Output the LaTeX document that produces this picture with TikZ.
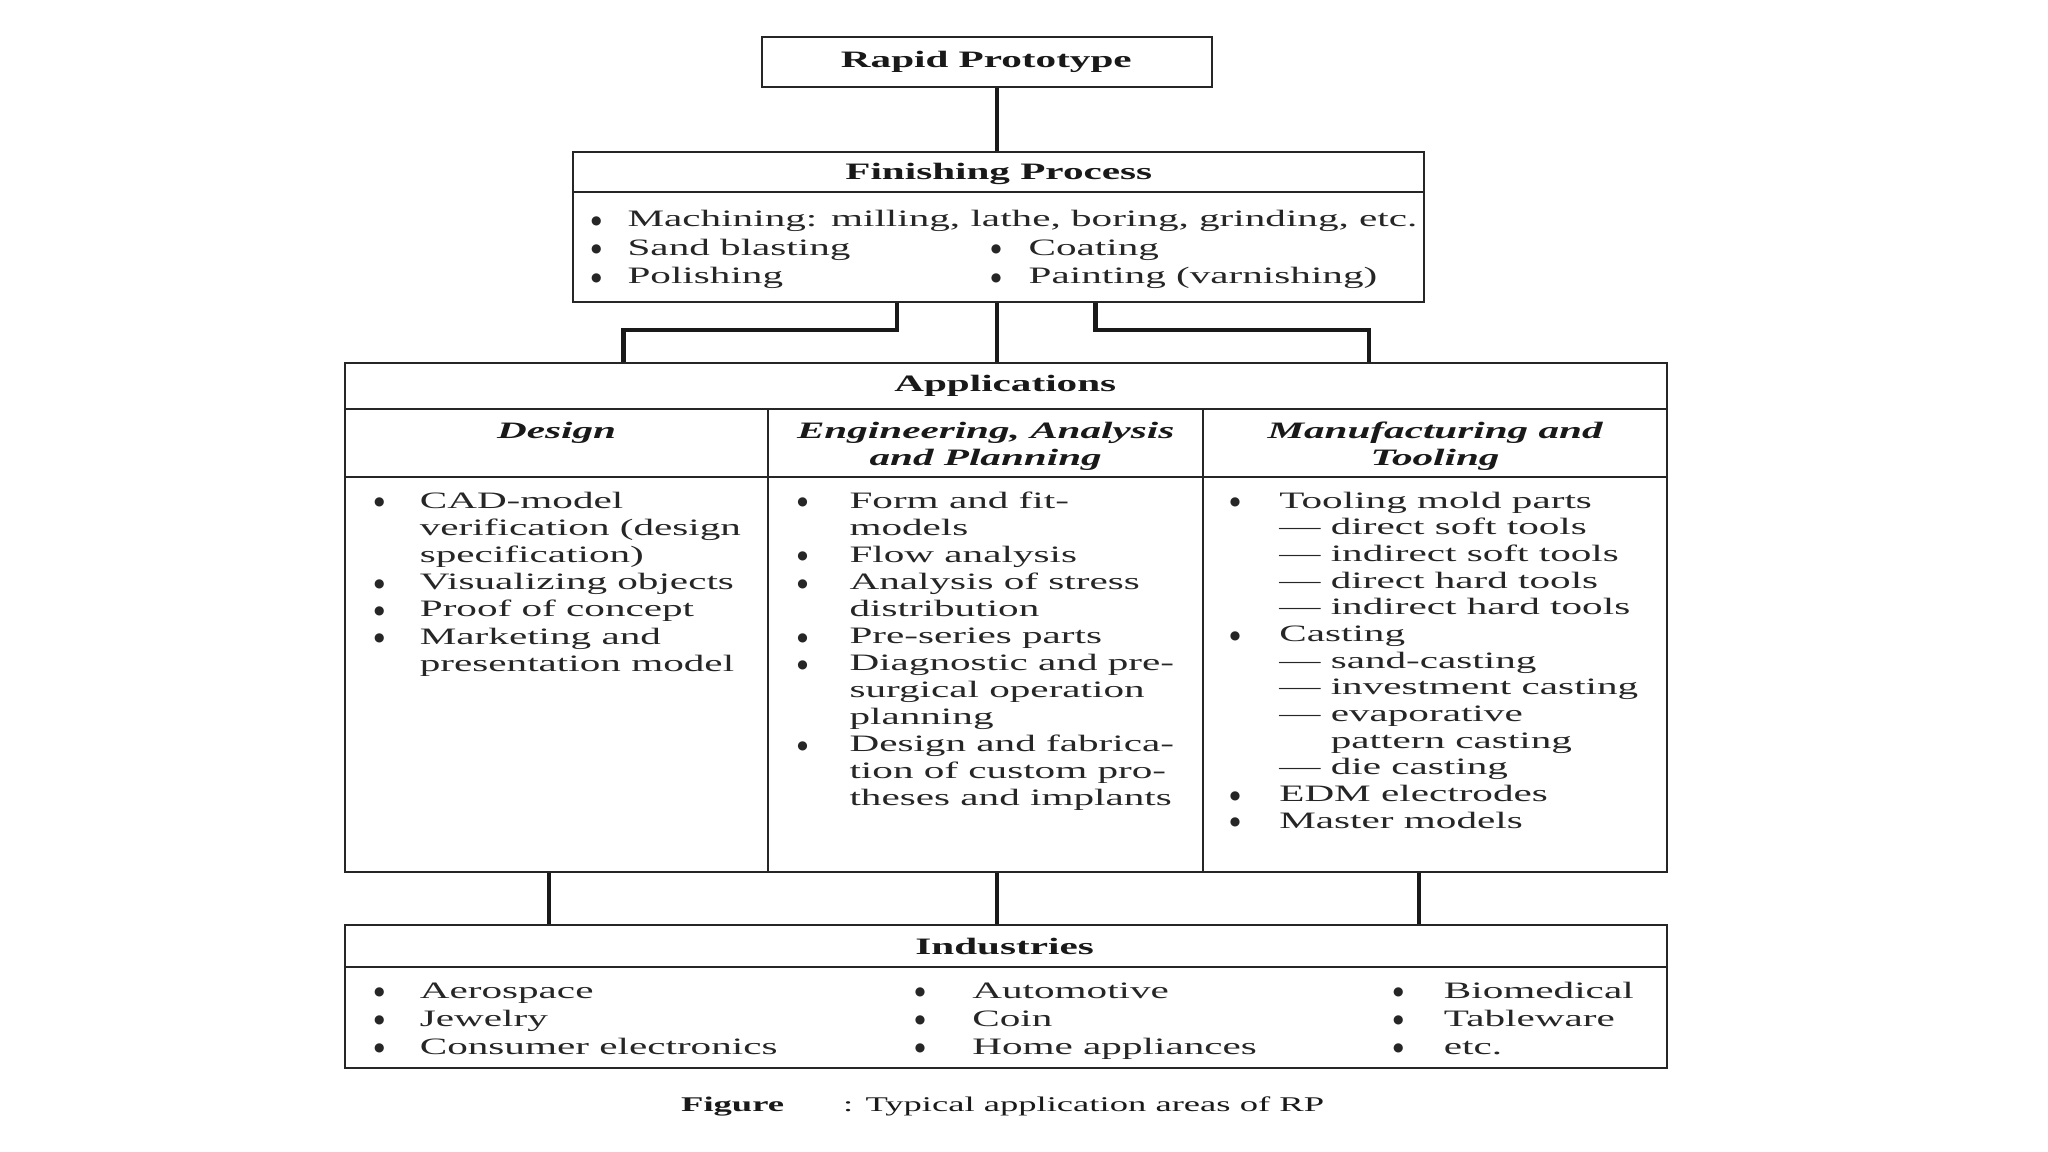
\documentclass[tikz,border=0pt]{standalone}
\usepackage{fontspec}
\usepackage{array}
\setmainfont[FakeStretch=1.75]{Liberation Serif}
\newfontfamily\dvs{DejaVu Sans}
\newcommand\bt{\hspace*{2.05pt}\makebox[0pt]{\raisebox{0.9pt}{\dvs\fontsize{4.6}{5}\selectfont ●}}}
\newcommand\fs[1]{\fontsize{9}{#1}\selectfont}
\begin{document}
\begin{tikzpicture}[x=0.5pt,y=-0.5pt,
  box/.style={draw=black!85, line width=0.8pt, inner sep=0pt},
  rule/.style={draw=black!85, line width=0.8pt},
  conn/.style={draw=black!90, line width=1.6pt},
  ttl/.style={anchor=base, inner sep=0pt, text=black!90, font=\fs{10}\bfseries},
  subh/.style={anchor=base, inner sep=0pt, text=black!90, font=\fs{10}\bfseries\itshape},
  lst/.style={anchor=base west, inner sep=0pt, text=black!85},
  capt/.style={anchor=base west, inner sep=0pt, text=black!90, font=\fontsize{8}{9.6}\selectfont}]
\useasboundingbox (0,0) rectangle (1567.67,881.81);
\fill[white] (0,0) rectangle (1567.67,881.81);

% ---- Rapid Prototype
\node[box, minimum width=172.5pt, minimum height=19.2pt] (rp) at (755.5,47.2) {};
\node[ttl] (rpt) at (755,52) {Rapid Prototype};

% ---- Finishing Process
\node[box, minimum width=325.5pt, minimum height=57.35pt] (fin) at (764.4,173.55) {};
\coordinate (finhd) at (0,146.8);
\draw[rule] (fin.west |- finhd) -- (fin.east |- finhd);
\node[ttl] (fint) at (764.5,137.5) {Finishing Process};
\node[lst, font=\fs{10.85}] (fl1) at (451.9,173.5) {\begin{tabular}[t]{@{}p{14.05pt}@{}l@{}}
\bt & Machining: milling, lathe, boring, grinding, etc.\\
\bt & Sand blasting\\
\bt & Polishing\end{tabular}};
\node[lst, font=\fs{10.85}] (fl2) at (757.9,195.2) {\begin{tabular}[t]{@{}p{14.55pt}@{}l@{}}
\bt & Coating\\
\bt & Painting (varnishing)\end{tabular}};

% ---- Applications
\node[box, minimum width=505.9pt, minimum height=194.55pt] (app) at (769.9,472.65) {};
\coordinate (apphd) at (0,313.3);
\coordinate (appsub) at (0,365);
\coordinate (d1) at (588,0);
\coordinate (d2) at (920.6,0);
\draw[rule] (app.west |- apphd) -- (app.east |- apphd);
\draw[rule] (app.west |- appsub) -- (app.east |- appsub);
\draw[rule] (d1 |- apphd) -- (d1 |- app.south);
\draw[rule] (d2 |- apphd) -- (d2 |- app.south);
\node[ttl] (appt) at (769.5,300) {Applications};
\node[subh] (h1) at (426,336) {Design};
\node[subh] (h2) at (754.5,336) {\begin{tabular}[t]{@{}c@{}}Engineering, Analysis\\ and Planning\end{tabular}};
\node[subh] (h3) at (1098.5,336) {\begin{tabular}[t]{@{}c@{}}Manufacturing and\\ Tooling\end{tabular}};

\node[lst, font=\fs{10.4}] (dl) at (285.9,389) {\begin{tabular}[t]{@{}p{17.55pt}@{}l@{}}
\bt & CAD-model\\
 & verification (design\\
 & specification)\\
\bt & Visualizing objects\\
\bt & Proof of concept\\
\bt & Marketing and\\
 & presentation model\end{tabular}};

\node[lst, font=\fs{10.36}] (el) at (609.9,389) {\begin{tabular}[t]{@{}p{20pt}@{}l@{}}
\bt & Form and fit-\\
 & models\\
\bt & Flow analysis\\
\bt & Analysis of stress\\
 & distribution\\
\bt & Pre-series parts\\
\bt & Diagnostic and pre-\\
 & surgical operation\\
 & planning\\
\bt & Design and fabrica-\\
 & tion of custom pro-\\
 & theses and implants\end{tabular}};

\node[lst, font=\fs{10.21}] (ml) at (940.9,389) {\begin{tabular}[t]{@{}p{19pt}@{}l@{}}
\bt & Tooling mold parts\\
 & — direct soft tools\\
 & — indirect soft tools\\
 & — direct hard tools\\
 & — indirect hard tools\\
\bt & Casting\\
 & — sand-casting\\
 & — investment casting\\
 & — evaporative\\
 & \phantom{— }pattern casting\\
 & — die casting\\
\bt & EDM electrodes\\
\bt & Master models\end{tabular}};

% ---- Industries
\node[box, minimum width=505.9pt, minimum height=54.9pt] (ind) at (769.9,762.9) {};
\coordinate (indhd) at (0,740.4);
\draw[rule] (ind.west |- indhd) -- (ind.east |- indhd);
\node[ttl] (indt) at (769,731) {Industries};
\node[lst, font=\fs{10.75}] (il1) at (285.9,764) {\begin{tabular}[t]{@{}p{17.55pt}@{}l@{}}
\bt & Aerospace\\
\bt & Jewelry\\
\bt & Consumer electronics\end{tabular}};
\node[lst, font=\fs{10.75}] (il2) at (699.9,764) {\begin{tabular}[t]{@{}p{22pt}@{}l@{}}
\bt & Automotive\\
\bt & Coin\\
\bt & Home appliances\end{tabular}};
\node[lst, font=\fs{10.75}] (il3) at (1065.9,764) {\begin{tabular}[t]{@{}p{19.5pt}@{}l@{}}
\bt & Biomedical\\
\bt & Tableware\\
\bt & etc.\end{tabular}};

% ---- connectors
\coordinate (cx) at (762.9,0);
\coordinate (cl1) at (686.4,0);
\coordinate (cl2) at (477.2,0);
\coordinate (cr1) at (838.5,0);
\coordinate (cr2) at (1048,0);
\coordinate (bus) at (0,252.5);
\coordinate (b1) at (420,0);
\coordinate (b3) at (1086,0);
\draw[conn] (cx |- rp.south) -- (cx |- fin.north);
\draw[conn] (cx |- fin.south) -- (cx |- app.north);
\draw[conn] (cl1 |- fin.south) -- (cl1 |- bus) -- (cl2 |- bus) -- (cl2 |- app.north);
\draw[conn] (cr1 |- fin.south) -- (cr1 |- bus) -- (cr2 |- bus) -- (cr2 |- app.north);
\draw[conn] (b1 |- app.south) -- (b1 |- ind.north);
\draw[conn] (cx |- app.south) -- (cx |- ind.north);
\draw[conn] (b3 |- app.south) -- (b3 |- ind.north);

% ---- caption
\node[capt] (capf) at (521,851) {\bfseries Figure};
\node[capt] (capr) at (645,851) {: Typical application areas of RP};
\end{tikzpicture}
\end{document}
